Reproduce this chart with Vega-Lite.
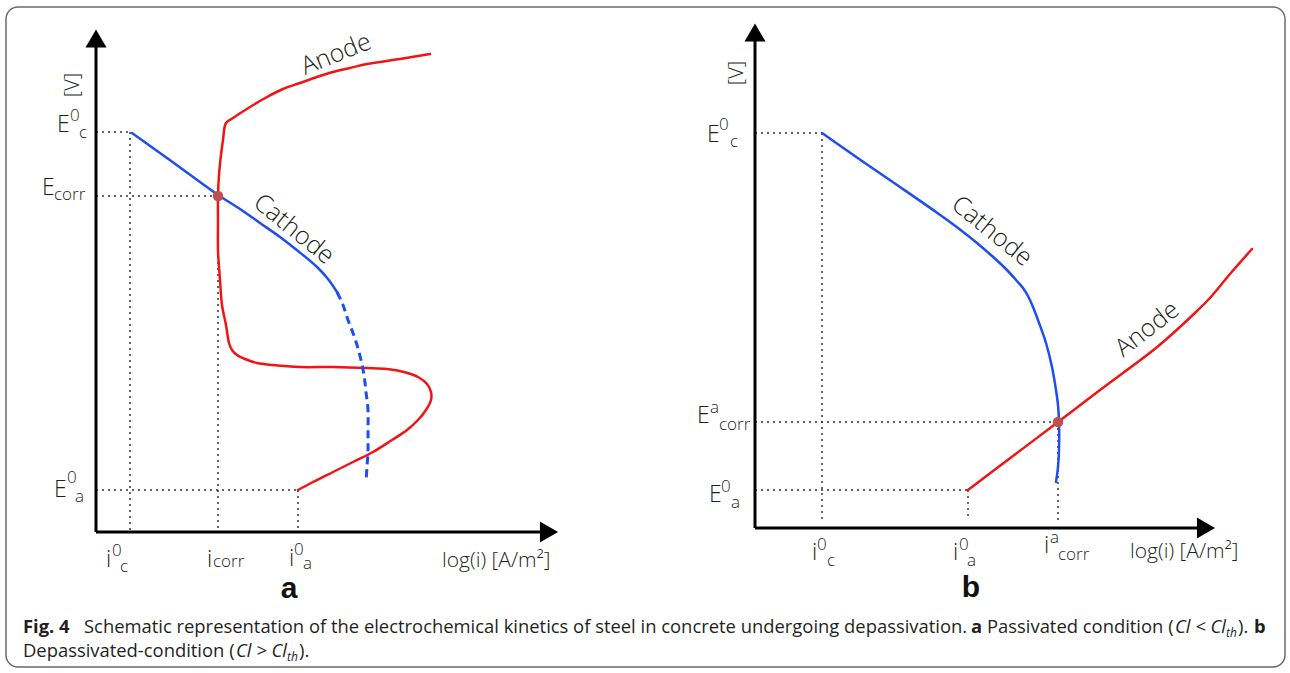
{
  "$schema": "https://vega.github.io/schema/vega-lite/v6.json",
  "width": 1290,
  "height": 673,
  "autosize": {"type": "fit", "contains": "padding"},
  "padding": 0,
  "background": "white",
  "config": {"view": {"stroke": null}},
  "datasets": {
    "frame": [{"x": 6, "y": 7, "x2": 1285, "y2": 667}],
    "axes": [
      {"x": 96, "y": 46, "x2": 96, "y2": 532},
      {"x": 96, "y": 532, "x2": 541, "y2": 532},
      {"x": 755, "y": 41, "x2": 755, "y2": 528},
      {"x": 755, "y": 528, "x2": 1198, "y2": 528}
    ],
    "arrowsUp": [{"x": 96, "y": 38.5}, {"x": 755, "y": 32.5}],
    "arrowsRight": [{"x": 549, "y": 532}, {"x": 1206, "y": 528}],
    "guides": [
      {"x": 96, "y": 132, "x2": 130, "y2": 132},
      {"x": 130, "y": 132, "x2": 130, "y2": 532},
      {"x": 96, "y": 196, "x2": 218, "y2": 196},
      {"x": 218, "y": 196, "x2": 218, "y2": 532},
      {"x": 96, "y": 490, "x2": 298, "y2": 490},
      {"x": 298, "y": 490, "x2": 298, "y2": 532},
      {"x": 755, "y": 133, "x2": 822, "y2": 133},
      {"x": 822, "y": 133, "x2": 822, "y2": 520},
      {"x": 755, "y": 422, "x2": 1058, "y2": 422},
      {"x": 1058, "y": 422, "x2": 1058, "y2": 520},
      {"x": 755, "y": 490, "x2": 968, "y2": 490},
      {"x": 968, "y": 490, "x2": 968, "y2": 520}
    ],
    "curves": [
      {"c": "anodeA", "i": 1, "x": 298, "y": 490},
      {"c": "anodeA", "i": 2, "x": 313, "y": 482},
      {"c": "anodeA", "i": 3, "x": 333, "y": 472},
      {"c": "anodeA", "i": 4, "x": 353, "y": 462},
      {"c": "anodeA", "i": 5, "x": 373, "y": 452},
      {"c": "anodeA", "i": 6, "x": 392, "y": 440},
      {"c": "anodeA", "i": 7, "x": 407, "y": 430},
      {"c": "anodeA", "i": 8, "x": 418, "y": 420},
      {"c": "anodeA", "i": 9, "x": 426, "y": 410},
      {"c": "anodeA", "i": 10, "x": 431, "y": 400},
      {"c": "anodeA", "i": 11, "x": 431, "y": 392},
      {"c": "anodeA", "i": 12, "x": 427, "y": 384},
      {"c": "anodeA", "i": 13, "x": 418, "y": 377},
      {"c": "anodeA", "i": 14, "x": 404, "y": 372},
      {"c": "anodeA", "i": 15, "x": 387, "y": 369},
      {"c": "anodeA", "i": 16, "x": 367, "y": 368},
      {"c": "anodeA", "i": 17, "x": 333, "y": 367},
      {"c": "anodeA", "i": 18, "x": 300, "y": 367},
      {"c": "anodeA", "i": 19, "x": 273, "y": 365},
      {"c": "anodeA", "i": 20, "x": 257, "y": 363},
      {"c": "anodeA", "i": 21, "x": 245, "y": 359},
      {"c": "anodeA", "i": 22, "x": 237, "y": 355},
      {"c": "anodeA", "i": 23, "x": 232, "y": 350},
      {"c": "anodeA", "i": 24, "x": 229, "y": 343},
      {"c": "anodeA", "i": 25, "x": 226, "y": 325},
      {"c": "anodeA", "i": 26, "x": 222, "y": 305},
      {"c": "anodeA", "i": 27, "x": 220, "y": 280},
      {"c": "anodeA", "i": 28, "x": 218, "y": 250},
      {"c": "anodeA", "i": 29, "x": 218, "y": 225},
      {"c": "anodeA", "i": 30, "x": 218, "y": 196},
      {"c": "anodeA", "i": 31, "x": 219, "y": 175},
      {"c": "anodeA", "i": 32, "x": 221, "y": 155},
      {"c": "anodeA", "i": 33, "x": 223, "y": 140},
      {"c": "anodeA", "i": 34, "x": 226, "y": 123},
      {"c": "anodeA", "i": 35, "x": 233, "y": 118},
      {"c": "anodeA", "i": 36, "x": 250, "y": 107},
      {"c": "anodeA", "i": 37, "x": 267, "y": 97},
      {"c": "anodeA", "i": 38, "x": 283, "y": 89},
      {"c": "anodeA", "i": 39, "x": 300, "y": 83},
      {"c": "anodeA", "i": 40, "x": 317, "y": 77},
      {"c": "anodeA", "i": 41, "x": 333, "y": 72},
      {"c": "anodeA", "i": 42, "x": 350, "y": 68},
      {"c": "anodeA", "i": 43, "x": 367, "y": 64},
      {"c": "anodeA", "i": 44, "x": 400, "y": 59},
      {"c": "anodeA", "i": 45, "x": 430, "y": 54},
      {"c": "cathodeA", "i": 1, "x": 132, "y": 133},
      {"c": "cathodeA", "i": 2, "x": 167, "y": 158},
      {"c": "cathodeA", "i": 3, "x": 200, "y": 182},
      {"c": "cathodeA", "i": 4, "x": 218, "y": 195},
      {"c": "cathodeA", "i": 5, "x": 240, "y": 209},
      {"c": "cathodeA", "i": 6, "x": 260, "y": 223},
      {"c": "cathodeA", "i": 7, "x": 280, "y": 237},
      {"c": "cathodeA", "i": 8, "x": 298, "y": 251},
      {"c": "cathodeA", "i": 9, "x": 317, "y": 267},
      {"c": "cathodeA", "i": 10, "x": 328, "y": 279},
      {"c": "cathodeA", "i": 11, "x": 337, "y": 292},
      {"c": "cathodeAdash", "i": 1, "x": 337, "y": 292},
      {"c": "cathodeAdash", "i": 2, "x": 343, "y": 305},
      {"c": "cathodeAdash", "i": 3, "x": 348, "y": 320},
      {"c": "cathodeAdash", "i": 4, "x": 353, "y": 333},
      {"c": "cathodeAdash", "i": 5, "x": 357, "y": 345},
      {"c": "cathodeAdash", "i": 6, "x": 361, "y": 360},
      {"c": "cathodeAdash", "i": 7, "x": 364, "y": 375},
      {"c": "cathodeAdash", "i": 8, "x": 366, "y": 392},
      {"c": "cathodeAdash", "i": 9, "x": 368, "y": 410},
      {"c": "cathodeAdash", "i": 10, "x": 368, "y": 430},
      {"c": "cathodeAdash", "i": 11, "x": 368, "y": 450},
      {"c": "cathodeAdash", "i": 12, "x": 367, "y": 467},
      {"c": "cathodeAdash", "i": 13, "x": 366, "y": 482},
      {"c": "cathodeB", "i": 1, "x": 822, "y": 133},
      {"c": "cathodeB", "i": 3, "x": 862, "y": 161},
      {"c": "cathodeB", "i": 4, "x": 900, "y": 187},
      {"c": "cathodeB", "i": 5, "x": 936, "y": 212},
      {"c": "cathodeB", "i": 6, "x": 958, "y": 228},
      {"c": "cathodeB", "i": 7, "x": 977, "y": 243},
      {"c": "cathodeB", "i": 8, "x": 992, "y": 256},
      {"c": "cathodeB", "i": 9, "x": 1005, "y": 268},
      {"c": "cathodeB", "i": 10, "x": 1016, "y": 280},
      {"c": "cathodeB", "i": 11, "x": 1023, "y": 288},
      {"c": "cathodeB", "i": 12, "x": 1028, "y": 296},
      {"c": "cathodeB", "i": 13, "x": 1033, "y": 307},
      {"c": "cathodeB", "i": 14, "x": 1038, "y": 320},
      {"c": "cathodeB", "i": 15, "x": 1046, "y": 343},
      {"c": "cathodeB", "i": 16, "x": 1052, "y": 367},
      {"c": "cathodeB", "i": 17, "x": 1056, "y": 390},
      {"c": "cathodeB", "i": 18, "x": 1058, "y": 405},
      {"c": "cathodeB", "i": 19, "x": 1059, "y": 422},
      {"c": "cathodeB", "i": 20, "x": 1059, "y": 450},
      {"c": "cathodeB", "i": 21, "x": 1058, "y": 467},
      {"c": "cathodeB", "i": 22, "x": 1056, "y": 482},
      {"c": "anodeB", "i": 1, "x": 968, "y": 490},
      {"c": "anodeB", "i": 2, "x": 1013, "y": 456},
      {"c": "anodeB", "i": 3, "x": 1058, "y": 422},
      {"c": "anodeB", "i": 4, "x": 1100, "y": 390},
      {"c": "anodeB", "i": 5, "x": 1156, "y": 348},
      {"c": "anodeB", "i": 6, "x": 1181, "y": 326},
      {"c": "anodeB", "i": 7, "x": 1197, "y": 311},
      {"c": "anodeB", "i": 8, "x": 1209, "y": 299},
      {"c": "anodeB", "i": 9, "x": 1230, "y": 274},
      {"c": "anodeB", "i": 10, "x": 1252, "y": 249}
    ],
    "dots": [{"x": 218, "y": 196}, {"x": 1058, "y": 422}],
    "labels": [
      {"t": "E", "x": 57, "y": 132, "k": "main"},
      {"t": "E", "x": 42, "y": 195, "k": "main"},
      {"t": "E", "x": 54, "y": 497, "k": "main"},
      {"t": "i", "x": 106, "y": 567, "k": "main"},
      {"t": "i", "x": 207, "y": 567, "k": "main"},
      {"t": "i", "x": 289, "y": 566, "k": "main"},
      {"t": "0", "x": 70, "y": 121, "k": "small"},
      {"t": "c", "x": 79, "y": 138, "k": "small"},
      {"t": "corr", "x": 54, "y": 200, "k": "small"},
      {"t": "0", "x": 67, "y": 483, "k": "small"},
      {"t": "a", "x": 75, "y": 502, "k": "small"},
      {"t": "0", "x": 112, "y": 556, "k": "small"},
      {"t": "c", "x": 120, "y": 572, "k": "small"},
      {"t": "corr", "x": 213, "y": 567, "k": "small"},
      {"t": "0", "x": 294, "y": 555, "k": "small"},
      {"t": "a", "x": 303, "y": 569, "k": "small"},
      {"t": "E", "x": 707, "y": 142, "k": "main"},
      {"t": "E", "x": 697, "y": 423, "k": "main"},
      {"t": "E", "x": 709, "y": 502, "k": "main"},
      {"t": "i", "x": 812, "y": 560, "k": "main"},
      {"t": "i", "x": 953, "y": 560, "k": "main"},
      {"t": "i", "x": 1044, "y": 553, "k": "main"},
      {"t": "0", "x": 719, "y": 130, "k": "small"},
      {"t": "c", "x": 730, "y": 147, "k": "small"},
      {"t": "a", "x": 710, "y": 413, "k": "small"},
      {"t": "corr", "x": 719, "y": 430, "k": "small"},
      {"t": "0", "x": 721, "y": 492, "k": "small"},
      {"t": "a", "x": 731, "y": 508, "k": "small"},
      {"t": "0", "x": 817, "y": 550, "k": "small"},
      {"t": "c", "x": 827, "y": 566, "k": "small"},
      {"t": "0", "x": 959, "y": 550, "k": "small"},
      {"t": "a", "x": 967, "y": 566, "k": "small"},
      {"t": "a", "x": 1050, "y": 543, "k": "small"},
      {"t": "corr", "x": 1058, "y": 560, "k": "small"},
      {"t": "log(i) [A/m²]", "x": 442, "y": 567, "k": "axn"},
      {"t": "log(i) [A/m²]", "x": 1130, "y": 558, "k": "axn"},
      {"t": "[V]", "x": 73, "y": 85, "k": "unit"},
      {"t": "[V]", "x": 737, "y": 73, "k": "unit"},
      {"t": "a", "x": 289, "y": 598, "k": "letter"},
      {"t": "b", "x": 971, "y": 597, "k": "letter"},
      {"t": "Anode", "x": 336, "y": 54, "k": "anodeA"},
      {"t": "Cathode", "x": 294, "y": 229, "k": "cathode"},
      {"t": "Cathode", "x": 992, "y": 231, "k": "cathode"},
      {"t": "Anode", "x": 1147, "y": 329, "k": "anodeB"},
      {"t": "Fig. 4", "x": 23, "y": 633, "k": "capb"},
      {"t": "Schematic representation of the electrochemical kinetics of steel in concrete undergoing depassivation.", "x": 84, "y": 633, "k": "cap"},
      {"t": "a", "x": 971, "y": 633, "k": "capb"},
      {"t": "Passivated condition (", "x": 987, "y": 633, "k": "cap"},
      {"t": "Cl < Cl", "x": 1175, "y": 633, "k": "capi"},
      {"t": "th", "x": 1226, "y": 637, "k": "capsub"},
      {"t": ").", "x": 1238, "y": 633, "k": "cap"},
      {"t": "b", "x": 1254, "y": 633, "k": "capb"},
      {"t": "Depassivated-condition (", "x": 23, "y": 657, "k": "cap"},
      {"t": "Cl > Cl", "x": 236, "y": 657, "k": "capi"},
      {"t": "th", "x": 287, "y": 661, "k": "capsub"},
      {"t": ").", "x": 299, "y": 657, "k": "cap"}
    ]
  },
  "encoding": {
    "x": {"field": "x", "type": "quantitative", "scale": {"domain": [0, 1290], "nice": false, "zero": false}, "axis": null},
    "y": {"field": "y", "type": "quantitative", "scale": {"domain": [0, 673], "nice": false, "zero": false, "reverse": true}, "axis": null}
  },
  "layer": [
    {
      "data": {"name": "frame"},
      "mark": {"type": "rect", "fill": "white", "fillOpacity": 0, "stroke": "#6b6b6b", "strokeWidth": 1.5, "cornerRadius": 12},
      "encoding": {"x2": {"field": "x2"}, "y2": {"field": "y2"}}
    },
    {
      "data": {"name": "guides"},
      "mark": {"type": "rule", "color": "#333333", "strokeWidth": 1.5, "strokeDash": [2, 4]},
      "encoding": {"x2": {"field": "x2"}, "y2": {"field": "y2"}}
    },
    {
      "data": {"name": "axes"},
      "mark": {"type": "rule", "color": "black", "strokeWidth": 3},
      "encoding": {"x2": {"field": "x2"}, "y2": {"field": "y2"}}
    },
    {
      "data": {"name": "arrowsUp"},
      "mark": {"type": "point", "shape": "triangle-up", "size": 441, "filled": true, "color": "black", "opacity": 1, "strokeWidth": 0}
    },
    {
      "data": {"name": "arrowsRight"},
      "mark": {"type": "point", "shape": "triangle-right", "size": 441, "filled": true, "color": "black", "opacity": 1, "strokeWidth": 0}
    },
    {
      "data": {"name": "curves"},
      "transform": [{"filter": "datum.c !== 'cathodeAdash'"}],
      "mark": {"type": "line", "strokeWidth": 2.5, "strokeJoin": "round", "strokeCap": "round", "interpolate": "catmull-rom"},
      "encoding": {
        "color": {"field": "c", "type": "nominal", "scale": {"domain": ["anodeA", "cathodeA", "anodeB", "cathodeB"], "range": ["#f01515", "#1f4ef0", "#f01515", "#1f4ef0"]}, "legend": null},
        "order": {"field": "i", "type": "quantitative"}
      }
    },
    {
      "data": {"name": "curves"},
      "transform": [{"filter": "datum.c === 'cathodeAdash'"}],
      "mark": {"type": "line", "strokeWidth": 3, "color": "#1f4ef0", "strokeDash": [8, 5], "interpolate": "catmull-rom"},
      "encoding": {"order": {"field": "i", "type": "quantitative"}}
    },
    {
      "data": {"name": "dots"},
      "mark": {"type": "point", "shape": "circle", "size": 110, "filled": true, "color": "#c0504d", "opacity": 1, "strokeWidth": 0}
    },
    {
      "data": {"name": "labels"},
      "transform": [{"filter": "datum.k === 'main'"}],
      "mark": {"type": "text", "font": "Open Sans", "fontWeight": 300, "fontSize": 23, "align": "left", "baseline": "alphabetic", "color": "#231f20"},
      "encoding": {"text": {"field": "t"}}
    },
    {
      "data": {"name": "labels"},
      "transform": [{"filter": "datum.k === 'small'"}],
      "mark": {"type": "text", "font": "Open Sans", "fontWeight": 300, "fontSize": 17, "align": "left", "baseline": "alphabetic", "color": "#231f20"},
      "encoding": {"text": {"field": "t"}}
    },
    {
      "data": {"name": "labels"},
      "transform": [{"filter": "datum.k === 'axn'"}],
      "mark": {"type": "text", "font": "Open Sans", "fontWeight": 300, "fontSize": 21, "align": "left", "baseline": "alphabetic", "color": "#231f20"},
      "encoding": {"text": {"field": "t"}}
    },
    {
      "data": {"name": "labels"},
      "transform": [{"filter": "datum.k === 'unit'"}],
      "mark": {"type": "text", "font": "Open Sans", "fontWeight": 300, "fontSize": 20, "align": "center", "baseline": "middle", "angle": 270, "color": "#231f20"},
      "encoding": {"text": {"field": "t"}}
    },
    {
      "data": {"name": "labels"},
      "transform": [{"filter": "datum.k === 'letter'"}],
      "mark": {"type": "text", "font": "Liberation Sans", "fontWeight": "bold", "fontSize": 30, "align": "center", "baseline": "alphabetic", "color": "#111111"},
      "encoding": {"text": {"field": "t"}}
    },
    {
      "data": {"name": "labels"},
      "transform": [{"filter": "datum.k === 'anodeA'"}],
      "mark": {"type": "text", "font": "Open Sans", "fontWeight": 300, "fontSize": 25, "align": "center", "baseline": "middle", "angle": -22, "color": "#231f20"},
      "encoding": {"text": {"field": "t"}}
    },
    {
      "data": {"name": "labels"},
      "transform": [{"filter": "datum.k === 'cathode'"}],
      "mark": {"type": "text", "font": "Open Sans", "fontWeight": 300, "fontSize": 25, "align": "center", "baseline": "middle", "angle": 39, "color": "#231f20"},
      "encoding": {"text": {"field": "t"}}
    },
    {
      "data": {"name": "labels"},
      "transform": [{"filter": "datum.k === 'anodeB'"}],
      "mark": {"type": "text", "font": "Open Sans", "fontWeight": 300, "fontSize": 25, "align": "center", "baseline": "middle", "angle": -38, "color": "#231f20"},
      "encoding": {"text": {"field": "t"}}
    },
    {
      "data": {"name": "labels"},
      "transform": [{"filter": "datum.k === 'cap'"}],
      "mark": {"type": "text", "font": "Open Sans", "fontSize": 18.4, "align": "left", "baseline": "alphabetic", "color": "#231f20"},
      "encoding": {"text": {"field": "t"}}
    },
    {
      "data": {"name": "labels"},
      "transform": [{"filter": "datum.k === 'capb'"}],
      "mark": {"type": "text", "font": "Open Sans", "fontWeight": "bold", "fontSize": 18.4, "align": "left", "baseline": "alphabetic", "color": "#231f20"},
      "encoding": {"text": {"field": "t"}}
    },
    {
      "data": {"name": "labels"},
      "transform": [{"filter": "datum.k === 'capi'"}],
      "mark": {"type": "text", "font": "Open Sans", "fontStyle": "italic", "fontSize": 18.4, "align": "left", "baseline": "alphabetic", "color": "#231f20"},
      "encoding": {"text": {"field": "t"}}
    },
    {
      "data": {"name": "labels"},
      "transform": [{"filter": "datum.k === 'capsub'"}],
      "mark": {"type": "text", "font": "Open Sans", "fontStyle": "italic", "fontSize": 12, "align": "left", "baseline": "alphabetic", "color": "#231f20"},
      "encoding": {"text": {"field": "t"}}
    }
  ]
}
